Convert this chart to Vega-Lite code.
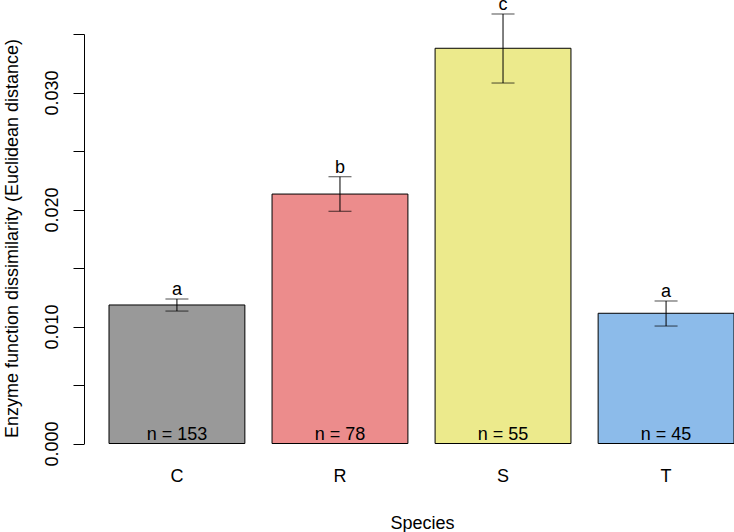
{
  "$schema": "https://vega.github.io/schema/vega-lite/v6.json",
  "autosize": {"type": "none"},
  "padding": {"left": 84, "top": 34, "right": 0, "bottom": 88.5},
  "width": 650,
  "height": 409.5,
  "background": "white",
  "config": {
    "view": {"stroke": null},
    "font": "Liberation Sans",
    "text": {"font": "Liberation Sans", "fontSize": 18, "color": "black"}
  },
  "data": {
    "values": [
      {"Species": "C", "mean": 0.01184, "lower": 0.01132, "upper": 0.01235, "n": "n = 153", "letter": "a"},
      {"Species": "R", "mean": 0.02132, "lower": 0.01985, "upper": 0.02280, "n": "n = 78", "letter": "b"},
      {"Species": "S", "mean": 0.03378, "lower": 0.03081, "upper": 0.03671, "n": "n = 55", "letter": "c"},
      {"Species": "T", "mean": 0.01113, "lower": 0.01004, "upper": 0.01218, "n": "n = 45", "letter": "a"}
    ]
  },
  "encoding": {
    "x": {
      "field": "Species",
      "type": "nominal",
      "scale": {"type": "band", "paddingInner": 0.16667, "paddingOuter": 0.07667, "align": 1},
      "axis": {
        "title": "Species",
        "labelAngle": 0,
        "domain": false,
        "ticks": false,
        "tickSize": 0,
        "labelFont": "Liberation Sans",
        "labelFontSize": 18,
        "labelColor": "black",
        "labelBaseline": "alphabetic",
        "labelPadding": 37.5,
        "titleFont": "Liberation Sans",
        "titleFontSize": 18,
        "titleFontWeight": "normal",
        "titleColor": "black",
        "titleBaseline": "alphabetic",
        "titleAlign": "center",
        "titleX": 338,
        "titleY": 84.5
      }
    }
  },
  "layer": [
    {
      "mark": {"type": "bar", "stroke": "black", "strokeWidth": 1},
      "encoding": {
        "y": {
          "field": "mean",
          "type": "quantitative",
          "scale": {"domain": [0, 0.035], "nice": false, "zero": true},
          "axis": {
            "title": "Enzyme function dissimilarity (Euclidean distance)",
            "values": [0, 0.005, 0.01, 0.015, 0.02, 0.025, 0.03, 0.035],
            "labelExpr": "round(datum.value * 1000) % 10 === 0 ? format(datum.value, '.3f') : ''",
            "grid": false,
            "domainColor": "black",
            "domainWidth": 1,
            "tickColor": "black",
            "tickWidth": 1,
            "tickSize": 11,
            "labelAngle": -90,
            "labelAlign": "center",
            "labelBaseline": "alphabetic",
            "labelPadding": 16,
            "labelFont": "Liberation Sans",
            "labelFontSize": 18,
            "labelColor": "black",
            "labelOverlap": false,
            "labelFlush": false,
            "titleFont": "Liberation Sans",
            "titleFontSize": 18,
            "titleFontWeight": "normal",
            "titleColor": "black",
            "titleAngle": -90,
            "titleBaseline": "alphabetic",
            "titleAlign": "center",
            "titleX": -66.5,
            "titleY": 204
          }
        },
        "fill": {
          "field": "Species",
          "type": "nominal",
          "scale": {"domain": ["C", "R", "S", "T"], "range": ["#999999", "#EC8C8C", "#ECEA8C", "#8CBBEA"]},
          "legend": null
        }
      }
    },
    {
      "mark": {"type": "rule", "color": "black", "strokeWidth": 1},
      "encoding": {
        "y": {"field": "lower", "type": "quantitative"},
        "y2": {"field": "upper"}
      }
    },
    {
      "mark": {"type": "tick", "color": "black", "thickness": 1, "size": 23, "orient": "horizontal"},
      "encoding": {"y": {"field": "upper", "type": "quantitative"}}
    },
    {
      "mark": {"type": "tick", "color": "black", "thickness": 1, "size": 23, "orient": "horizontal"},
      "encoding": {"y": {"field": "lower", "type": "quantitative"}}
    },
    {
      "mark": {"type": "text", "baseline": "alphabetic", "align": "center", "dy": -4},
      "encoding": {
        "y": {"field": "upper", "type": "quantitative"},
        "text": {"field": "letter"}
      }
    },
    {
      "mark": {"type": "text", "baseline": "alphabetic", "align": "center", "dy": -4},
      "encoding": {
        "y": {"datum": 0, "type": "quantitative"},
        "text": {"field": "n"}
      }
    }
  ]
}
